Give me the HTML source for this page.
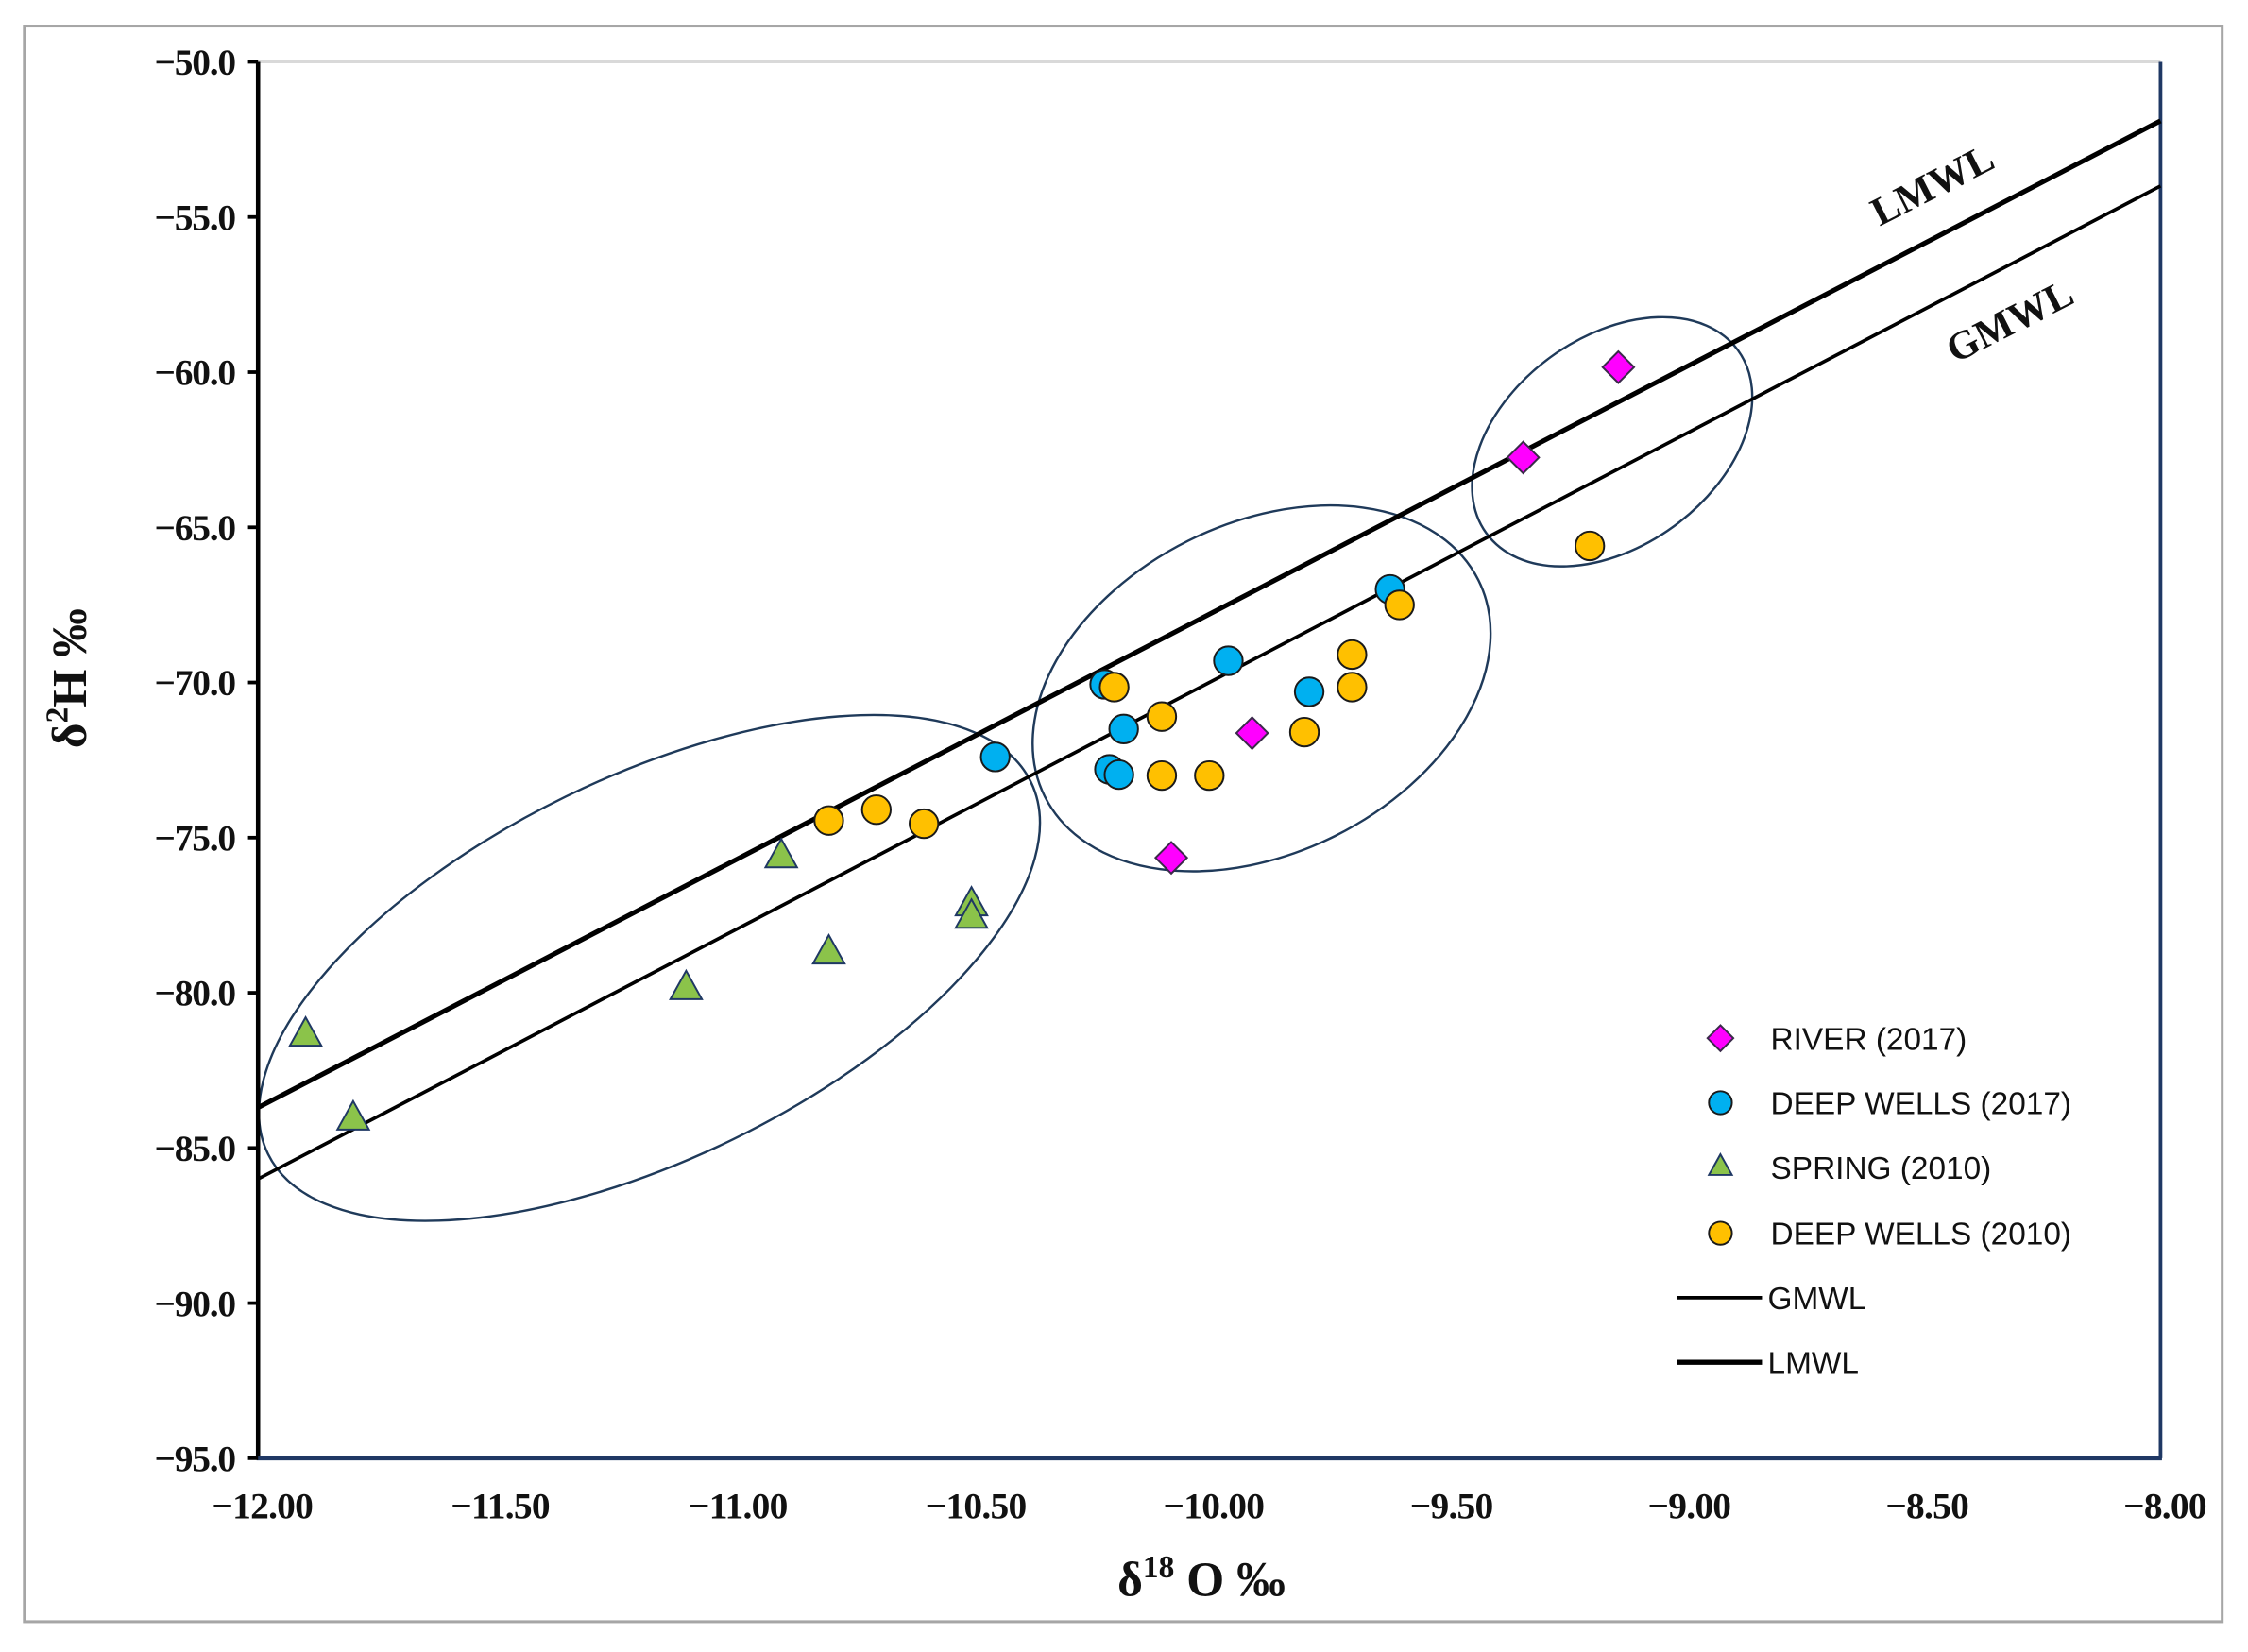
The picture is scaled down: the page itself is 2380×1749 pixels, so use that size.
<!DOCTYPE html>
<html><head><meta charset="utf-8"><style>
html,body{margin:0;padding:0;background:#fff;}
svg{display:block;}
.tk{font-family:"Liberation Serif",serif;font-weight:bold;fill:#111;}
.lg{font-family:"Liberation Sans",sans-serif;fill:#111;}
</style></head><body>
<svg id="chart" width="2380" height="1749" viewBox="0 0 1568 1152" xmlns="http://www.w3.org/2000/svg">
<rect x="17" y="18" width="1533" height="1113" fill="#fff" stroke="#a6a6a6" stroke-width="2"/>
<g id="plot"></g>
</svg>
<script>
const xTicks=[-12,-11.5,-11,-10.5,-10,-9.5,-9,-8.5,-8];
const yTicks=[-50,-55,-60,-65,-70,-75,-80,-85,-90,-95];
const riverX=[-9.14,-9.34,-9.91,-10.08];
const riverY=[-59.84,-62.75,-71.63,-75.65];
const dw17X=[-9.62,-9.96,-9.79,-10.22,-10.18,-10.21,-10.19,-10.45];
const dw17Y=[-67.0,-69.3,-70.3,-70.06,-71.5,-72.8,-72.97,-72.4];
const springX=[-11.90,-11.80,-11.10,-10.90,-10.80,-10.50,-10.50];
const springY=[-81.3,-84.0,-79.8,-75.55,-78.65,-77.1,-77.5];
const dw10X=[-9.20,-9.60,-9.70,-9.70,-9.80,-10.20,-10.10,-10.10,-10.00,-10.80,-10.70,-10.60];
const dw10Y=[-65.6,-67.5,-69.1,-70.15,-71.6,-70.15,-71.1,-73.0,-73.0,-74.45,-74.1,-74.55];
const lmwlX=[-12,-8];
const lmwlY=[-83.7,-51.9];
const gmwlX=[-12,-8];
const gmwlY=[-86,-54];

const X0=180,X1=1507,Y0=43,Y1=1017;
const sx=v=>X0+(v+12)/4*(X1-X0);
const sy=v=>Y0+(-50-v)/45*(Y1-Y0);
const NS="http://www.w3.org/2000/svg";
const g=document.getElementById('plot');
function mk(tag,attrs,parent){const e=document.createElementNS(NS,tag);for(const k in attrs)e.setAttribute(k,attrs[k]);(parent||g).appendChild(e);return e;}

let e;
e=mk('line',{x1:X0,y1:Y0,x2:X1,y2:Y0,stroke:'#d9d9d9','stroke-width':2});


e=mk('line',{x1:X1,y1:Y0,x2:X1,y2:Y1,stroke:'#1f3864','stroke-width':2.5});



const ells=[[453,675,296,133,-26],[880,480,169,115,-26.5],[1124.5,308,108.5,73,-36]];
ells.forEach((a,i)=>{
 const el=mk('ellipse',{cx:a[0],cy:a[1],rx:a[2],ry:a[3],transform:`rotate(${a[4]} ${a[0]} ${a[1]})`,fill:'none',stroke:'#1f3a5a','stroke-width':1.6});
 
 
});

e=mk('line',{x1:sx(gmwlX[0]),y1:sy(gmwlY[0]),x2:sx(gmwlX[1]),y2:sy(gmwlY[1]),stroke:'#000','stroke-width':2.4});


e=mk('line',{x1:sx(lmwlX[0]),y1:sy(lmwlY[0]),x2:sx(lmwlX[1]),y2:sy(lmwlY[1]),stroke:'#000','stroke-width':3.4});



e=mk('text',{x:1352,y:137,class:'tk','text-anchor':'middle',style:'font-size:28px',transform:'rotate(-27 1352 137)'});
e.textContent='LMWL';


e=mk('text',{x:1406,y:232,class:'tk','text-anchor':'middle',style:'font-size:28px',transform:'rotate(-27 1406 232)'});
e.textContent='GMWL';



e=mk('line',{x1:X0,y1:Y0,x2:X0,y2:Y1+1,stroke:'#000','stroke-width':3});


e=mk('line',{x1:X0-1,y1:Y1,x2:X1+1,y2:Y1,stroke:'#1f3864','stroke-width':3});



yTicks.forEach(v=>{
 const t=mk('line',{x1:X0-7,y1:sy(v),x2:X0,y2:sy(v),stroke:'#000','stroke-width':2.5});
 
 
 const l=mk('text',{x:X0-16,y:sy(v)+9,class:'tk','text-anchor':'end',style:'font-size:26px;letter-spacing:-0.8px'});
 l.textContent='\u2212'+Math.abs(v).toFixed(1);
 
 
});
xTicks.forEach(v=>{
 const l=mk('text',{x:sx(v)+3,y:Y1+42,class:'tk','text-anchor':'middle',style:'font-size:26px;letter-spacing:-0.5px'});
 l.textContent='\u2212'+Math.abs(v).toFixed(2);
 
 
});

e=mk('text',{x:838,y:1113,class:'tk','text-anchor':'middle',style:'font-size:34px'});
e.innerHTML='δ<tspan style="font-size:22px" dy="-13">18</tspan><tspan dy="13"> O ‰</tspan>';


e=mk('text',{x:60,y:473,class:'tk','text-anchor':'middle',style:'font-size:34px',transform:'rotate(-90 60 473)'});
e.innerHTML='δ<tspan style="font-size:22px" dy="-13">2</tspan><tspan dy="13">H ‰</tspan>';



function diamond(cx,cy,r,p){return mk('polygon',{points:`${cx},${cy-r} ${cx+r},${cy} ${cx},${cy+r} ${cx-r},${cy}`,fill:'#ff00ff',stroke:'#3a2a4a','stroke-width':1.3},p);}
function circ(cx,cy,r,f,p){return mk('circle',{cx:cx,cy:cy,r:r,fill:f,stroke:'#1a1a1a','stroke-width':1.3},p);}
function tri(cx,cy,r,p){return mk('polygon',{points:`${cx},${cy-r} ${cx+r},${cy+r*0.8} ${cx-r},${cy+r*0.8}`,fill:'#8bc34a',stroke:'#1f3864','stroke-width':1.3},p);}

dw17X.forEach((v,i)=>{const m=circ(sx(v),sy(dw17Y[i]),10,'#00b0f0');
 
 });
springX.forEach((v,i)=>{const m=tri(sx(v),sy(springY[i]),11);
 
 });
dw10X.forEach((v,i)=>{const m=circ(sx(v),sy(dw10Y[i]),10,'#ffc000');
 
 });
riverX.forEach((v,i)=>{const m=diamond(sx(v),sy(riverY[i]),11);
 
 });

const lgy=[724,769,814,860,905,950];
const lgt=['RIVER (2017)','DEEP WELLS (2017)','SPRING (2010)','DEEP WELLS (2010)','GMWL','LMWL'];
let m;
m=diamond(1200,lgy[0],9);


m=circ(1200,lgy[1],8,'#00b0f0');


m=tri(1200,lgy[2]-1,8);


m=circ(1200,lgy[3],8,'#ffc000');


m=mk('line',{x1:1170,y1:lgy[4],x2:1229,y2:lgy[4],stroke:'#000','stroke-width':2.4});


m=mk('line',{x1:1170,y1:lgy[5],x2:1229,y2:lgy[5],stroke:'#000','stroke-width':3.6});


lgt.forEach((s,i)=>{const t=mk('text',{x:i<4?1235:1233,y:lgy[i]+8,class:'lg',style:'font-size:22px'});t.textContent=s;
 
 });
</script>
</body></html>
